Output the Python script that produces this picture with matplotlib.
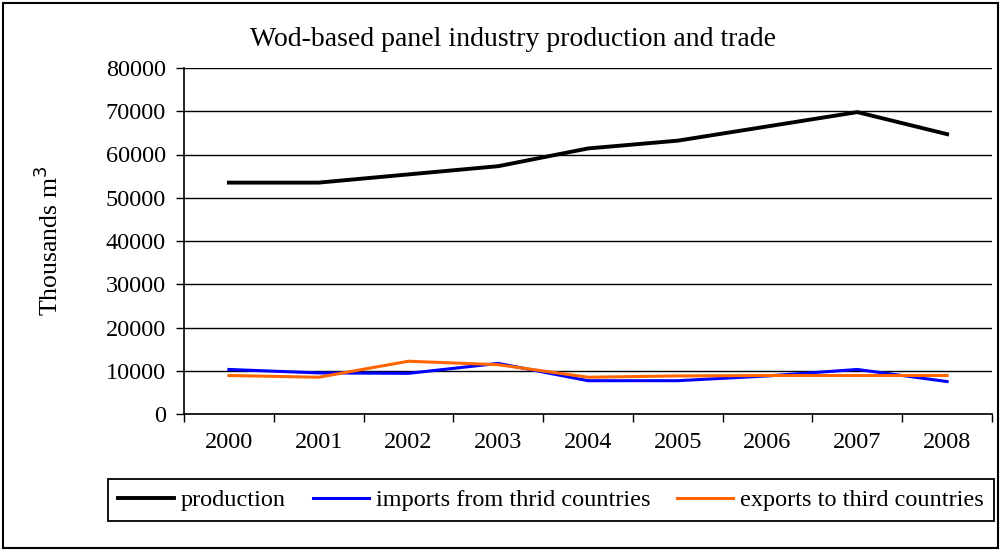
import matplotlib
matplotlib.use("Agg")
import matplotlib.pyplot as plt
from matplotlib.patches import Rectangle

years = ["2000", "2001", "2002", "2003", "2004", "2005", "2006", "2007", "2008"]
production = [53500, 53500, 55400, 57300, 61400, 63200, 66500, 69800, 64700]
imports = [10300, 9500, 9400, 11700, 7700, 7700, 8800, 10300, 7500]
exports = [8900, 8500, 12200, 11400, 8500, 8800, 8900, 8900, 8900]
y_ticks = [0, 10000, 20000, 30000, 40000, 50000, 60000, 70000, 80000]

plt.rcParams["font.family"] = ["Liberation Serif", "DejaVu Serif"]

fig = plt.figure(figsize=(10.01, 5.51), dpi=100)
ax = fig.add_axes([184 / 1001, 137 / 551, 808 / 1001, 346 / 551])

x = list(range(len(years)))
ax.plot(x, production, color="black", lw=2.8, label="production")
ax.plot(x, imports, color="#0000FF", lw=2.2, label="imports from thrid countries")
ax.plot(x, exports, color="#FF6600", lw=2.2, label="exports to third countries")

ax.set_xlim(-0.5, len(years) - 0.5)
ax.set_ylim(0, 80000)
ax.set_yticks(y_ticks)
ax.set_yticklabels([str(v) for v in y_ticks])
ax.yaxis.grid(True, color="black", lw=1)
ax.set_axisbelow(True)

# category boundaries carry the tick marks, labels sit between them
ax.set_xticks([i - 0.5 for i in range(len(years) + 1)])
ax.set_xticklabels([])
ax.set_xticks(x, minor=True)
ax.set_xticklabels(years, minor=True)
ax.tick_params(axis="x", which="major", length=6, width=1, color="black")
ax.tick_params(axis="x", which="minor", length=0, pad=13, labelsize=17.5)
ax.tick_params(axis="y", length=6, width=1, labelsize=17.5, pad=7)

for side in ["top", "right"]:
    ax.spines[side].set_visible(False)
for side in ["left", "bottom"]:
    ax.spines[side].set_color("black")
    ax.spines[side].set_linewidth(1.2)

ax.set_ylabel("Thousands m$^3$", fontsize=18.5)
ax.yaxis.set_label_coords(-0.15, 0.5)
fig.text(513 / 1001, 1 - 40 / 551, "Wod-based panel industry production and trade",
         ha="center", va="center", fontsize=20)

leg = fig.legend(loc="center", bbox_to_anchor=(551 / 1001, 1 - 500 / 551), ncol=3,
                 fontsize=17.5, frameon=True, fancybox=False, edgecolor="black",
                 framealpha=1, handlelength=2.3, handletextpad=0.3,
                 columnspacing=1.1, borderpad=0.4)
leg.get_frame().set_linewidth(1.3)

fig.patches.append(Rectangle((3 / 1001, 3 / 551), 995 / 1001, 545 / 551,
                             transform=fig.transFigure, fill=False,
                             edgecolor="black", lw=1.5))

fig.savefig("out.png", dpi=100, facecolor="white")
